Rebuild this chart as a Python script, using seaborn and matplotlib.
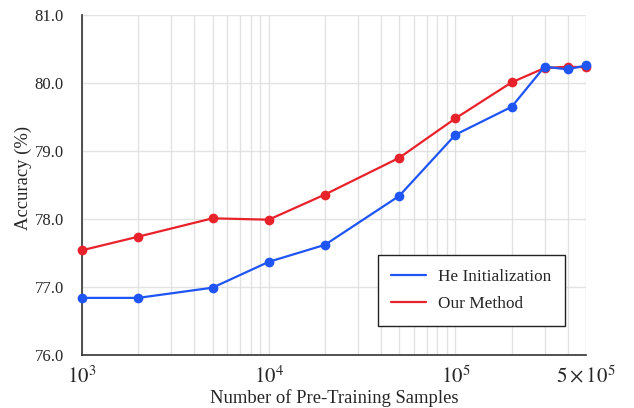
import numpy as np
import pandas as pd
import matplotlib
matplotlib.use("Agg")
import matplotlib.pyplot as plt
import seaborn as sns
from matplotlib.lines import Line2D
from matplotlib.ticker import LogLocator, FixedLocator, NullFormatter

# Data
samples = [1e3, 2e3, 5e3, 1e4, 2e4, 5e4, 1e5, 2e5, 3e5, 4e5, 5e5]
he_init = [76.84, 76.84, 76.99, 77.37, 77.62, 78.34, 79.24, 79.65, 80.24, 80.20, 80.26]
our_method = [77.54, 77.74, 78.01, 77.99, 78.36, 78.90, 79.48, 80.01, 80.22, 80.24, 80.23]
series_names = ["He Initialization", "Our Method"]
x_ticks = [1e3, 1e4, 1e5, 5e5]
x_tick_labels = [r"$10^3$", r"$10^4$", r"$10^5$", r"$5\times10^5$"]
y_ticks = [76, 77, 78, 79, 80, 81]

sns.set_theme(style="whitegrid")
plt.rcParams["font.family"] = ["Liberation Serif", "DejaVu Serif"]
plt.rcParams["mathtext.fontset"] = "stix"

df = pd.DataFrame({
    "samples": samples * 2,
    "accuracy": he_init + our_method,
    "method": [series_names[0]] * len(samples) + [series_names[1]] * len(samples),
})

fig = plt.figure(figsize=(6.34, 4.08), dpi=100)
ax = fig.add_axes([82 / 634, 1 - 355 / 408, 504 / 634, 340 / 408])

palette = {"He Initialization": "#1f55f5", "Our Method": "#e8222a"}
sns.lineplot(data=df, x="samples", y="accuracy", hue="method", palette=palette,
             marker="o", markersize=7, markeredgewidth=0, linewidth=1.6,
             ax=ax, legend=False)
# blue drawn above red, markers not clipped at the edges
lines = ax.get_lines()
lines[0].set_zorder(4)
lines[1].set_zorder(3)
for ln in lines:
    ln.set_clip_on(False)

ax.set_xscale("log")
ax.set_xlim(1e3, 5e5)
ax.set_ylim(76, 81)
ax.xaxis.set_major_locator(FixedLocator(x_ticks))
ax.set_xticklabels(x_tick_labels, fontsize=15)
ax.xaxis.set_minor_locator(LogLocator(base=10, subs=np.arange(2, 10)))
ax.xaxis.set_minor_formatter(NullFormatter())
ax.set_yticks(y_ticks)
ax.set_yticklabels([f"{v:.1f}" for v in y_ticks], fontsize=12)

ax.grid(which="both", axis="x", color="#e2e2e2", linewidth=1.0)
ax.grid(which="major", axis="y", color="#e2e2e2", linewidth=1.0)
ax.set_facecolor("white")
for side in ["top", "right"]:
    ax.spines[side].set_visible(False)
for side in ["left", "bottom"]:
    ax.spines[side].set_color("#333333")
    ax.spines[side].set_linewidth(1.2)
ax.tick_params(axis="x", which="major", direction="in", length=3, color="#333333", pad=8)
ax.tick_params(axis="x", which="minor", length=0)
ax.tick_params(axis="y", length=0, pad=13)

ax.set_xlabel("Number of Pre-Training Samples", fontsize=13.4, labelpad=1)
ax.set_ylabel("Accuracy (%)", fontsize=13.4)
ax.yaxis.set_label_coords(-0.1, 0.52)

handles = [Line2D([], [], color=palette[n], linewidth=1.6) for n in series_names]
leg = ax.legend(handles, series_names, loc="lower right", bbox_to_anchor=(0.958, 0.085),
                fontsize=12.4, frameon=True, fancybox=False, framealpha=1,
                edgecolor="#222222", borderpad=0.8, labelspacing=0.65,
                handlelength=2.0, handletextpad=0.7, borderaxespad=0)
leg.get_frame().set_linewidth(1.0)
leg.set_zorder(5)

fig.savefig("out.png", dpi=100)
plt.close(fig)
